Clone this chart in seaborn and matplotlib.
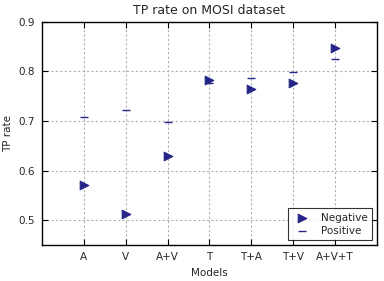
import matplotlib
matplotlib.use("Agg")
import matplotlib.pyplot as plt
import seaborn as sns
import pandas as pd

models = ["A", "V", "A+V", "T", "T+A", "T+V", "A+V+T"]
negative = [0.572, 0.512, 0.629, 0.783, 0.764, 0.777, 0.847]
positive = [0.708, 0.722, 0.698, 0.777, 0.787, 0.799, 0.825]

sns.set_style("white")
plt.rcParams["font.family"] = ["DejaVu Sans"]

df = pd.DataFrame({"x": range(len(models)), "neg": negative, "pos": positive})

fig = plt.figure(figsize=(3.84, 2.81), dpi=100)
ax = fig.add_axes([0.109, 0.128, 0.873, 0.794])
color = "#262688"
sns.scatterplot(data=df, x="x", y="neg", marker=">", s=38, color=color,
                edgecolor=color, linewidth=0.8, ax=ax, label="Negative", zorder=3)
sns.scatterplot(data=df, x="x", y="pos", marker="_", s=36, color=color,
                linewidth=1.0, ax=ax, label="Positive", zorder=3)

ax.set_xlim(-1, 7)
ax.set_ylim(0.45, 0.9)
ax.set_xticks(range(len(models)))
ax.set_xticklabels(models)
ax.set_yticks([0.5, 0.6, 0.7, 0.8, 0.9])
ax.grid(True, color="#b0b0b0", linestyle=(0, (2, 2)), linewidth=0.8)
ax.set_axisbelow(True)
for s in ax.spines.values():
    s.set_color("black")
    s.set_linewidth(1.0)
ax.tick_params(axis="both", direction="in", length=4, labelsize=7.5, color="black",
               top=True, right=True, left=True, bottom=True, pad=5)
ax.set_xlabel("Models", fontsize=7.5)
ax.set_ylabel("TP rate", fontsize=7.5)
ax.set_title("TP rate on MOSI dataset", fontsize=9)
leg = ax.legend(loc="lower right", fontsize=7.5, frameon=True, fancybox=False,
                edgecolor="black", borderaxespad=0.5, handletextpad=0.8,
                scatterpoints=1, labelspacing=0.3)
leg.get_frame().set_linewidth(0.8)
fig.savefig("out.png", dpi=100, facecolor="white")
